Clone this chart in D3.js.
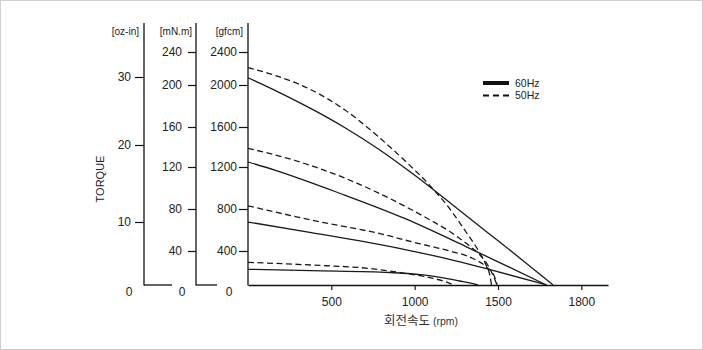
<!DOCTYPE html>
<html><head><meta charset="utf-8">
<script src="https://cdn.jsdelivr.net/npm/d3@7/dist/d3.min.js"></script>
<style>
body{margin:0;background:#fff}
svg{display:block}
text{font-family:"Liberation Sans",Arial,Helvetica,sans-serif;fill:#222}
</style>
</head><body>
<svg id="c" width="703" height="350"></svg>
<script>
// ---- data: [rpm, torque gfcm] ----
const hz60_a = [[0,2088],[180,1935],[384,1770],[582,1593],[780,1382],[942,1190],[1092,1010],[1272,784],[1452,558],[1632,316],[1830,0]];
const hz60_b = [[0,1250],[160,1170],[550,950],[940,710],[1310,440],[1510,264],[1790,0]];
const hz60_c = [[0,676],[380,576],[672,496],[942,414],[1252,282],[1452,181],[1792,0]];
const hz60_d = [[0,185],[380,168],[850,147],[1050,118],[1180,82],[1270,47],[1330,24],[1380,0]];
const hz50_a = [[0,2210],[180,2104],[384,1950],[582,1762],[780,1506],[942,1262],[1092,1023],[1212,799],[1308,581],[1380,410],[1428,235],[1452,106],[1461,0]];
const hz50_b = [[0,1387],[282,1265],[564,1105],[942,826],[1092,696],[1212,584],[1332,444],[1392,353],[1452,188],[1482,59],[1494,0]];
const hz50_c = [[0,830],[380,695],[850,543],[940,505],[1090,447],[1210,400],[1350,312],[1430,212],[1480,94],[1495,0]];
const hz50_d = [[0,267],[380,235],[730,194],[940,138],[1090,88],[1180,41],[1235,0]];

const gfcmTicks = [400,800,1200,1600,2000,2400];
const mnmTicks  = [40,80,120,160,200,240];
const ozTicks   = [10,20,30];
const xTickValues = [500,1000,1500,2000];
const xTickLabels = ["500","1000","1500","1800"];
const legendLabels = ["60Hz","50Hz"];
const unitLabels = ["[oz-in]","[mN.m]","[gfcm]"];

// ---- scales ----
const svg = d3.select("#c");
const x = d3.scaleLinear().domain([0,2160]).range([248,608]);
const yG = d3.scaleLinear().domain([0,400,800,1200,1600,2000,2400]).range([285,251,209,167,127,85,52]);
const yM = d3.scaleLinear().domain(yG.domain().map(v=>v/10)).range(yG.range());
const yOz = d3.scaleLinear().domain([0,10,20,30]).range([285,222,145,77]);

// frame
svg.append("rect").attr("x",0.5).attr("y",0.5).attr("width",702).attr("height",349)
  .attr("fill","none").attr("stroke","#cfcfcf");

function styleAxis(g){
  g.selectAll("text").style("font-size","12px").attr("fill","#222");
  g.selectAll("line").attr("stroke","#111").attr("stroke-width",1.2);
  g.selectAll(".domain").attr("stroke","#111").attr("stroke-width",1.3);
}

const axesDef = [
  {xp:144, scale:yOz, ticks:ozTicks, size:9, pad:4, stub:172, zx:129, ux:139},
  {xp:196, scale:yM,  ticks:mnmTicks, size:8, pad:6, stub:217, zx:182, ux:192},
  {xp:248, scale:yG,  ticks:gfcmTicks, size:9, pad:2, stub:null, zx:229, ux:243}
];
axesDef.forEach((a,i)=>{
  const g = svg.append("g").attr("transform",`translate(${a.xp},0)`)
    .call(d3.axisLeft(a.scale).tickValues(a.ticks).tickSize(a.size).tickPadding(a.pad).tickFormat(d3.format("d")));
  g.select(".domain").remove();
  styleAxis(g);
  svg.append("line").attr("x1",a.xp).attr("x2",a.xp).attr("y1",23).attr("y2",a.scale(0)+0.6)
    .attr("stroke","#111").attr("stroke-width",1.3);
  if(a.stub){
    svg.append("line").attr("x1",a.xp).attr("x2",a.stub).attr("y1",a.scale(0)).attr("y2",a.scale(0))
      .attr("stroke","#111").attr("stroke-width",1.3);
  }
  svg.append("text").attr("x",a.zx).attr("y",a.scale(0)+11).attr("text-anchor","middle")
    .style("font-size","12px").text("0");
  svg.append("text").attr("x",a.ux).attr("y",35).attr("text-anchor","end")
    .style("font-size","10px").text(unitLabels[i]);
});

// x axis
const gx = svg.append("g").attr("transform",`translate(0,${yG(0)})`)
  .call(d3.axisBottom(x).tickValues(xTickValues).tickFormat((d,i)=>xTickLabels[i]).tickSize(5).tickPadding(7).tickSizeOuter(0));
styleAxis(gx);

// axis titles
svg.append("text").attr("transform","translate(104,179) rotate(-90)").attr("text-anchor","middle")
  .style("font-size","11px").attr("fill","#444").text("TORQUE");
const xt = svg.append("text").attr("x",421).attr("y",325).attr("text-anchor","middle");
xt.append("tspan").style("font-family","'Noto Sans CJK KR',sans-serif").style("font-size","12.5px").attr("fill","#333").text("회전속도");
xt.append("tspan").style("font-size","10.5px").attr("fill","#333").text(" (rpm)");

// curves
const line = d3.line().x(d=>x(d[0])).y(d=>yG(d[1])).curve(d3.curveMonotoneX);
[hz60_a,hz60_b,hz60_c,hz60_d].forEach(s=>{
  svg.append("path").datum(s).attr("d",line).attr("fill","none").attr("stroke","#1a1a1a").attr("stroke-width",1.3);
});
[hz50_a,hz50_b,hz50_c,hz50_d].forEach(s=>{
  svg.append("path").datum(s).attr("d",line).attr("fill","none").attr("stroke","#1a1a1a").attr("stroke-width",1.3)
    .attr("stroke-dasharray","6,3.5");
});

// legend
const lg = svg.append("g").attr("transform","translate(483,83)");
lg.append("line").attr("x1",0).attr("x2",26).attr("y1",0).attr("y2",0).attr("stroke","#111").attr("stroke-width",4);
lg.append("line").attr("x1",0).attr("x2",26).attr("y1",12.5).attr("y2",12.5).attr("stroke","#111").attr("stroke-width",2.2)
  .attr("stroke-dasharray","6,4");
legendLabels.forEach((t,i)=>{
  lg.append("text").attr("x",32).attr("y",i*12.5+3.8).style("font-size","10.5px").text(t);
});
</script>
</body></html>
